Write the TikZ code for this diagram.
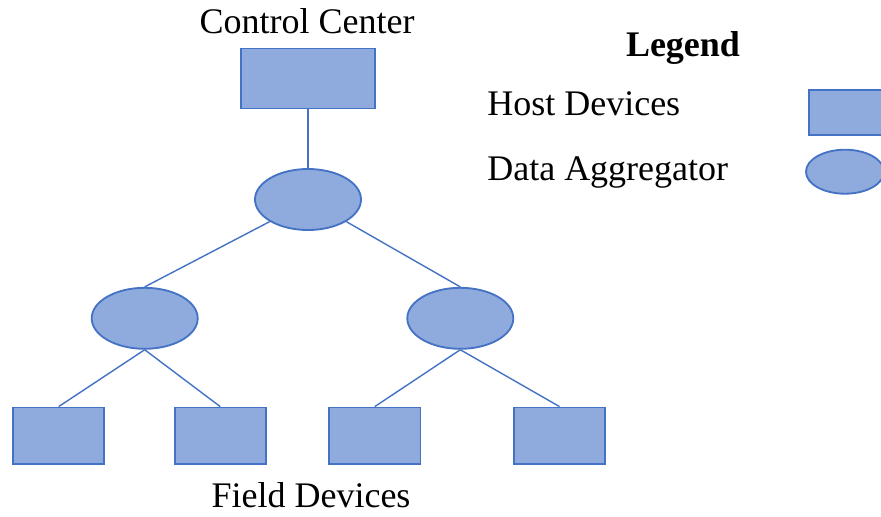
\documentclass[tikz,border=0pt]{standalone}
\usepackage{fontspec}
\setmainfont{Liberation Serif}
\usepackage{tikz}
\usetikzlibrary{shapes.geometric}

\definecolor{boxfill}{HTML}{8FAADC}
\definecolor{boxline}{HTML}{4472C4}

\tikzset{
  host/.style={rectangle, draw=boxline, fill=boxfill, line width=1.3pt, inner sep=0pt},
  aggr/.style={ellipse, draw=boxline, fill=boxfill, line width=1.3pt, inner sep=0pt,
    minimum width=2.65cm, minimum height=1.525cm},
  link/.style={draw=boxline, line width=1pt},
  txt/.style={font=\fontsize{25.6}{30}\selectfont, inner sep=0pt}
}

\begin{document}
\begin{tikzpicture}[x=0.025cm, y=-0.025cm]
    \useasboundingbox (0,0) rectangle (881,516);
    \clip (0,0) rectangle (881,516);
    % control center
    \node[txt, anchor=base] (cctext) at (307,33) {Control Center};
    \node[host, minimum width=3.35cm, minimum height=1.5cm] (cc) at (308,78.5) {};
    % three aggregators
    \node[aggr] (top) at (308,199.5) {};
    \node[aggr] (left) at (144.7,318.3) {};
    \node[aggr] (right) at (460.3,318.3) {};
    % four field devices
    \foreach \name/\x in {fa/58.7, fb/220.2, fc/374.8, fd/559.5}{
      \node[host, minimum width=2.28cm, minimum height=1.41cm] (\name) at (\x,435.7) {};
    }
    \node[txt, anchor=base] (fdtext) at (311,507.5) {Field Devices};
    % links
    \draw[link] (cc.south) -- (top.north);
    \draw[link] (top.210) -- (left.north);
    \draw[link] (top.330) -- (right.north);
    \draw[link] (left.south) -- (fa.north);
    \draw[link] (left.south) -- (fb.north);
    \draw[link] (right.south) -- (fc.north);
    \draw[link] (right.south) -- (fd.north);
    % legend
    \node[txt, anchor=base] (legend) at (683,56) {\bfseries Legend};
    \node[txt, anchor=base west] (hosttext) at (487,115.7) {Host Devices};
    \node[txt, anchor=base west] (aggrtext) at (487,180) {Data Aggregator};
    \node[host, minimum width=2.28cm, minimum height=1.12cm] (hostkey) at (855,112.8) {};
    \node[aggr, minimum width=1.95cm, minimum height=1.1cm] (aggrkey) at (845,171.7) {};
\end{tikzpicture}
\end{document}
